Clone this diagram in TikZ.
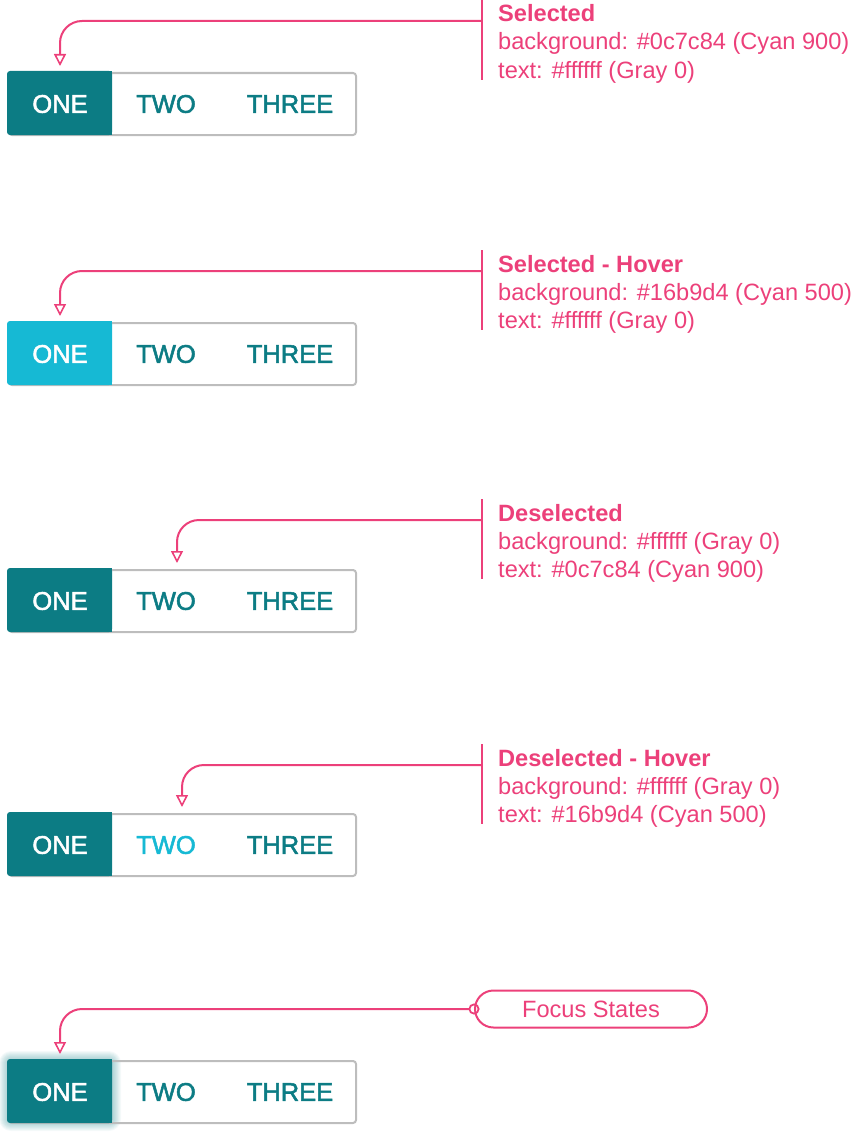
\documentclass[tikz,border=0pt]{standalone}
\usepackage{fontspec}
\setmainfont{Liberation Sans}
\newfontface\btnface{Liberation Sans}[FakeBold=2]
\usetikzlibrary{arrows.meta,shapes.misc}
\definecolor{cyannine}{HTML}{0C7C84}
\definecolor{cyanfive}{HTML}{16B9D4}
\definecolor{pinkc}{HTML}{EC407A}
\definecolor{bordergray}{HTML}{BDBDBD}
\newcommand\btnfont{\btnface\fontsize{25.5}{28}\selectfont}
\newcommand\annfont{\fontsize{23.6}{28}\selectfont}
\tikzset{
  boxouter/.style={draw=bordergray, line width=2pt, rounded corners=3pt, minimum width=347pt, minimum height=62pt, inner sep=0pt, anchor=north west},
  btn/.style={font=\btnfont, inner sep=0pt, anchor=center, text=cyannine},
  annot/.style={font=\annfont, text=pinkc, inner sep=0pt, anchor=base west},
  barline/.style={draw=pinkc, line width=2pt},
  conn/.style={draw=pinkc, line width=2pt, rounded corners=22pt, -{Triangle[open, length=12pt, width=12pt, line width=1.6pt]}},
}
% #1 prefix, #2 box top y, #3 ONE fill colour, #4 TWO text colour
\newcommand\segrow[4]{%
  \node[boxouter] (#1box) at (8,#2) {};
  \fill[#3, rounded corners=3pt] (7,#2-1) rectangle (112,#2+63);
  \fill[#3] (60,#2-1) rectangle (112,#2+63);
  \node[btn, text=white] (#1one) at (60,#2+32) {ONE};
  \node[btn, text=#4] (#1two) at (166,#2+32) {TWO};
  \node[btn] (#1three) at (290,#2+32) {THREE};
}
% #1 prefix, #2 line y, #3 target x, #4 target y, #5 heading, #6 line2, #7 line3
\newcommand\annot[7]{%
  \coordinate (#1bar) at (482,#2);
  \coordinate (#1top) at (482,#2-21);
  \coordinate (#1bot) at (482,#2+59);
  \coordinate (#1tgt) at (#3,#4);
  \draw[barline] (#1top) -- (#1bot);
  \node[annot, font=\annfont\bfseries] (#1h) at (498,#2+1) {#5};
  \node[annot] (#1l2) at (498,#2+29) {#6};
  \node[annot] (#1l3) at (498,#2+57) {#7};
  \draw[conn] (#1bar) -| (#1tgt);
}
\begin{document}
\begin{tikzpicture}[x=1pt,y=-1pt]
\useasboundingbox (0,0) rectangle (852,1132);
% group 1
\segrow{a}{72}{cyannine}{cyannine}
\annot{a}{21}{60}{66}{Selected}{background: \#0c7c84 (Cyan 900)}{text: \#ffffff (Gray 0)}
% group 2
\segrow{b}{322}{cyanfive}{cyannine}
\annot{b}{271}{60}{316}{Selected - Hover}{background: \#16b9d4 (Cyan 500)}{text: \#ffffff (Gray 0)}
% group 3
\segrow{c}{569}{cyannine}{cyannine}
\annot{c}{520}{177}{563}{Deselected}{background: \#ffffff (Gray 0)}{text: \#0c7c84 (Cyan 900)}
% group 4
\segrow{d}{813}{cyannine}{cyanfive}
\annot{d}{765}{182}{807}{Deselected - Hover}{background: \#ffffff (Gray 0)}{text: \#16b9d4 (Cyan 500)}
% group 5 focus
\foreach \i in {1,...,9} {
  \fill[cyannine, opacity=0.045, rounded corners={3pt+\i pt}] (8-\i,1060-\i) rectangle (112+\i,1122+\i);
}
\segrow{e}{1060}{cyannine}{cyannine}
\node[draw=pinkc, line width=2pt, rounded rectangle, minimum width=232pt, minimum height=37pt, inner sep=0pt, font=\annfont, text=pinkc] (focus) at (591,1009) {Focus States};
\coordinate (etgt) at (60,1054);
\draw[conn, {Circle[open, length=11pt, width=11pt, line width=1.8pt]}-{Triangle[open, length=12pt, width=12pt, line width=1.6pt]}, shorten <=-5.5pt] (focus.west) -| (etgt);
\end{tikzpicture}
\end{document}
